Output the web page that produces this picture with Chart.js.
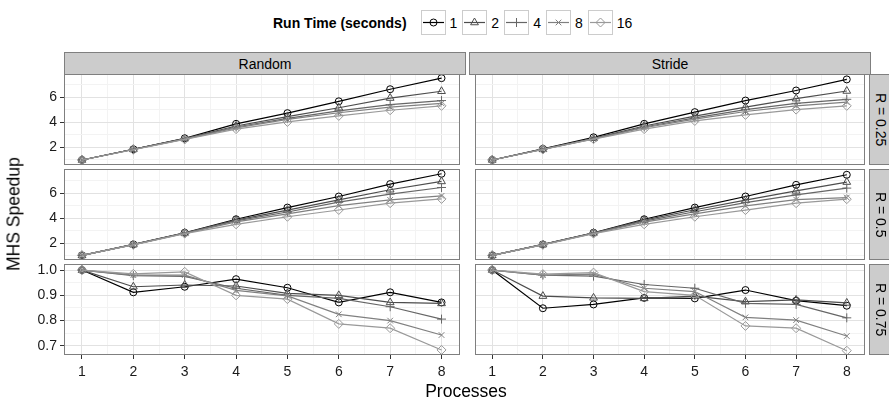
<!DOCTYPE html>
<html>
<head>
<meta charset="utf-8">
<script src="https://cdn.jsdelivr.net/npm/chart.js@4.4.1/dist/chart.umd.min.js"></script>
<style>
  body { margin:0; width:889px; height:404px; position:relative; overflow:hidden; background:#fff;
         font-family:'Liberation Sans', Arial, sans-serif; color:#000; }
  canvas { position:absolute; }
  .strip { position:absolute; box-sizing:border-box; background:#cccccc; border:1px solid #7f7f7f;
           font-size:14px; display:flex; align-items:center; justify-content:center; z-index:2; }
  .rstrip { writing-mode:vertical-rl; }
  .title { position:absolute; font-size:17.5px; white-space:nowrap; z-index:2; }
  #legend { position:absolute; left:273px; top:10px; height:25px; display:flex; align-items:center; font-size:14px; }
  #legend b { margin-right:14px; }
  #legend svg { display:block; }
  #legend span.lab { margin:0 5px 0 4px; }
</style>
</head>
<body>
<div id="legend"><b>Run Time (seconds)</b></div>
<div class="title" id="ytitle">MHS Speedup</div>
<div class="title" id="xtitle">Processes</div>

<script>
// processes on the x axis
const processes = [1, 2, 3, 4, 5, 6, 7, 8];
// legend levels
const runTimes = ['1', '2', '4', '8', '16'];
const columns = ['Random', 'Stride'];
const rows = ['R = 0.25', 'R = 0.5', 'R = 0.75'];

// one list per run time (1, 2, 4, 8, 16 s)
const randomR025 = [
  [1.00, 1.85, 2.72, 3.87, 4.72, 5.66, 6.62, 7.50],
  [1.00, 1.85, 2.70, 3.70, 4.45, 5.15, 5.92, 6.46],
  [1.00, 1.84, 2.68, 3.62, 4.30, 4.90, 5.39, 5.72],
  [1.00, 1.83, 2.66, 3.55, 4.22, 4.75, 5.20, 5.50],
  [1.00, 1.81, 2.63, 3.45, 4.02, 4.50, 4.95, 5.30]
];
const strideR025 = [
  [1.00, 1.88, 2.80, 3.87, 4.80, 5.72, 6.52, 7.40],
  [1.00, 1.86, 2.72, 3.70, 4.48, 5.20, 5.87, 6.48],
  [1.00, 1.85, 2.70, 3.62, 4.35, 5.00, 5.50, 5.82],
  [1.00, 1.84, 2.68, 3.56, 4.25, 4.85, 5.30, 5.60],
  [1.00, 1.83, 2.65, 3.45, 4.10, 4.58, 5.00, 5.30]
];
const randomR05 = [
  [1.05, 1.92, 2.85, 3.92, 4.85, 5.73, 6.72, 7.54],
  [1.05, 1.91, 2.83, 3.85, 4.65, 5.47, 6.27, 6.93],
  [1.05, 1.90, 2.82, 3.80, 4.50, 5.28, 5.92, 6.45],
  [1.05, 1.90, 2.80, 3.72, 4.35, 5.00, 5.46, 5.78],
  [1.05, 1.89, 2.78, 3.52, 4.12, 4.66, 5.20, 5.54]
];
const strideR05 = [
  [1.05, 1.92, 2.85, 3.92, 4.85, 5.73, 6.66, 7.46],
  [1.05, 1.91, 2.83, 3.85, 4.68, 5.45, 6.18, 6.88],
  [1.05, 1.90, 2.82, 3.78, 4.52, 5.25, 5.86, 6.40],
  [1.05, 1.90, 2.80, 3.70, 4.35, 4.98, 5.49, 5.65],
  [1.05, 1.89, 2.78, 3.52, 4.12, 4.65, 5.20, 5.52]
];
const randomR075 = [
  [1.000, 0.912, 0.934, 0.964, 0.930, 0.872, 0.912, 0.872],
  [1.000, 0.934, 0.941, 0.937, 0.908, 0.900, 0.872, 0.868],
  [1.000, 0.978, 0.975, 0.928, 0.900, 0.888, 0.855, 0.806],
  [1.000, 0.980, 0.980, 0.920, 0.898, 0.825, 0.800, 0.743],
  [1.000, 0.985, 0.993, 0.900, 0.885, 0.787, 0.770, 0.684]
];
const strideR075 = [
  [1.000, 0.849, 0.864, 0.890, 0.888, 0.921, 0.879, 0.859],
  [1.000, 0.897, 0.890, 0.888, 0.897, 0.875, 0.882, 0.870],
  [1.000, 0.980, 0.976, 0.943, 0.928, 0.868, 0.864, 0.811],
  [1.000, 0.980, 0.984, 0.928, 0.915, 0.813, 0.802, 0.739],
  [1.000, 0.984, 0.990, 0.915, 0.900, 0.779, 0.770, 0.681]
];

// look
const strokes = ['#000000', '#4d4d4d', '#666666', '#808080', '#999999'];
const shapes = ['circle', 'triangle', 'cross', 'crossRot', 'rectRot'];
const radii = [3.5, 4.5, 4.5, 4, 4.5];
const MAJOR = '#e2e2e2', MINOR = '#f3f3f3', TICK = '#333333';

const colX = [14, 469], colW = [451, 401], yAxisW = [50, 0];
const rowTop = [74, 169, 264], panelH = 91, PAD = 10, X_AXIS_H = 30;
const yRange = [[0.6, 7.83], [0.68, 7.92], [0.664, 1.024]];
const yStep = [1, 1, 0.05];

const panelBorder = {
  id: 'panelBorder',
  afterDraw(chart){
    const a = chart.chartArea, c = chart.ctx;
    c.save();
    c.strokeStyle = '#7f7f7f'; c.lineWidth = 1;
    c.strokeRect(Math.round(a.left)+0.5, Math.round(a.top)+0.5, Math.round(a.width)-1, Math.round(a.height)-1);
    c.restore();
  }
};

const isMajorY = (r, v) => r < 2 ? v % 2 === 0 : Math.round(v*20) % 2 === 0;
const fmtY = (r, v) => r < 2 ? String(v) : v.toFixed(1);

function makePanel(col, row, data){
  const bottom = row === 2;
  const cv = document.createElement('canvas');
  const w = colW[col], h = PAD + panelH + (bottom ? X_AXIS_H : 0) + PAD;
  cv.width = w; cv.height = h;
  cv.style.left = colX[col] + 'px';
  cv.style.top = (rowTop[row] - PAD) + 'px';
  document.body.appendChild(cv);

  const datasets = data.map((vals, i) => ({
    label: runTimes[i],
    data: processes.map((p, k) => ({ x: p, y: vals[k] })),
    borderColor: strokes[i],
    borderWidth: 1.2,
    pointStyle: shapes[i],
    pointRadius: radii[i],
    pointBorderColor: strokes[i],
    pointBackgroundColor: 'rgba(0,0,0,0)',
    pointBorderWidth: 1,
    tension: 0,
    order: 4 - i
  }));

  const showY = col === 0;
  new Chart(cv, {
    type: 'line',
    data: { datasets },
    plugins: [panelBorder],
    options: {
      responsive: false,
      animation: false,
      devicePixelRatio: 1,
      layout: { padding: { top: PAD, bottom: PAD, left: 0, right: 0 } },
      plugins: { legend: { display: false }, tooltip: { enabled: false } },
      scales: {
        x: {
          type: 'linear', min: 0.65, max: 8.35,
          border: { display: false },
          grid: {
            color: c => Number.isInteger(c.tick.value) ? MAJOR : MINOR,
            lineWidth: 1,
            drawTicks: bottom, tickLength: 4,
            tickColor: c => Number.isInteger(c.tick.value) ? TICK : 'rgba(0,0,0,0)'
          },
          ticks: {
            display: bottom, stepSize: 0.5, autoSkip: false, maxRotation: 0, includeBounds: false,
            padding: 5, color: '#1a1a1a', font: { family: "'Liberation Sans', Arial, sans-serif", size: 14 },
            callback: v => Number.isInteger(v) ? String(v) : ''
          },
          afterFit: s => { s.height = bottom ? X_AXIS_H : 0; s.paddingLeft = 0; s.paddingRight = 0; }
        },
        y: {
          type: 'linear', min: yRange[row][0], max: yRange[row][1],
          border: { display: false },
          grid: {
            color: c => isMajorY(row, c.tick.value) ? MAJOR : MINOR,
            lineWidth: 1,
            drawTicks: showY, tickLength: 4,
            tickColor: c => isMajorY(row, c.tick.value) ? TICK : 'rgba(0,0,0,0)'
          },
          ticks: {
            display: showY, stepSize: yStep[row], autoSkip: false, includeBounds: false,
            padding: 3, color: '#1a1a1a', font: { family: "'Liberation Sans', Arial, sans-serif", size: 14 },
            callback: v => isMajorY(row, v) ? fmtY(row, v) : ''
          },
          afterFit: s => { s.width = yAxisW[col]; s.paddingTop = 0; s.paddingBottom = 0; }
        }
      }
    }
  });
}

const panelData = [
  [randomR025, strideR025],
  [randomR05, strideR05],
  [randomR075, strideR075]
];
panelData.forEach((r, ri) => r.forEach((d, ci) => makePanel(ci, ri, d)));

// strips
const panelLeft = [64, 469];
columns.forEach((name, ci) => {
  const s = document.createElement('div');
  s.className = 'strip';
  s.textContent = name;
  Object.assign(s.style, { left: panelLeft[ci] + 'px', top: '52px', width: '402px', height: '23px' });
  document.body.appendChild(s);
});
rows.forEach((name, ri) => {
  const s = document.createElement('div');
  s.className = 'strip rstrip';
  s.textContent = name;
  Object.assign(s.style, { left: '869px', top: rowTop[ri] + 'px', width: '24px', height: panelH + 'px' });
  document.body.appendChild(s);
});

// axis titles
const yt = document.getElementById('ytitle');
yt.style.left = '14px'; yt.style.top = '214px';
yt.style.transform = 'translate(-50%,-50%) rotate(-90deg)';
const xt = document.getElementById('xtitle');
xt.style.left = '466px'; xt.style.top = '391px';
xt.style.transform = 'translate(-50%,-50%)';

// legend keys
const svgNS = 'http://www.w3.org/2000/svg';
function keyMarker(i){
  const c = strokes[i], r = radii[i];
  const a = `stroke="${c}" stroke-width="1" fill="none"`;
  switch (shapes[i]) {
    case 'circle': return `<circle cx="12.5" cy="12.5" r="${r}" ${a}/>`;
    case 'triangle': return `<polygon points="12.5,${12.5-r} ${12.5+r*0.866},${12.5+r/2} ${12.5-r*0.866},${12.5+r/2}" ${a}/>`;
    case 'cross': return `<path d="M${12.5-r} 12.5H${12.5+r}M12.5 ${12.5-r}V${12.5+r}" ${a}/>`;
    case 'crossRot': { const o = r*0.707; return `<path d="M${12.5-o} ${12.5-o}L${12.5+o} ${12.5+o}M${12.5-o} ${12.5+o}L${12.5+o} ${12.5-o}" ${a}/>`; }
    default: return `<polygon points="12.5,${12.5-r} ${12.5+r},12.5 12.5,${12.5+r} ${12.5-r},12.5" ${a}/>`;
  }
}
const legend = document.getElementById('legend');
runTimes.forEach((lab, i) => {
  const wrap = document.createElement('div');
  wrap.innerHTML = `<svg xmlns="${svgNS}" width="25" height="25">
    <rect x="0.5" y="0.5" width="24" height="24" fill="#fff" stroke="#cccccc"/>
    <line x1="2" y1="12.5" x2="23" y2="12.5" stroke="${strokes[i]}" stroke-width="1.2"/>
    ${keyMarker(i)}</svg>`;
  legend.appendChild(wrap);
  const t = document.createElement('span');
  t.className = 'lab';
  t.textContent = lab;
  legend.appendChild(t);
});
</script>
</body>
</html>
